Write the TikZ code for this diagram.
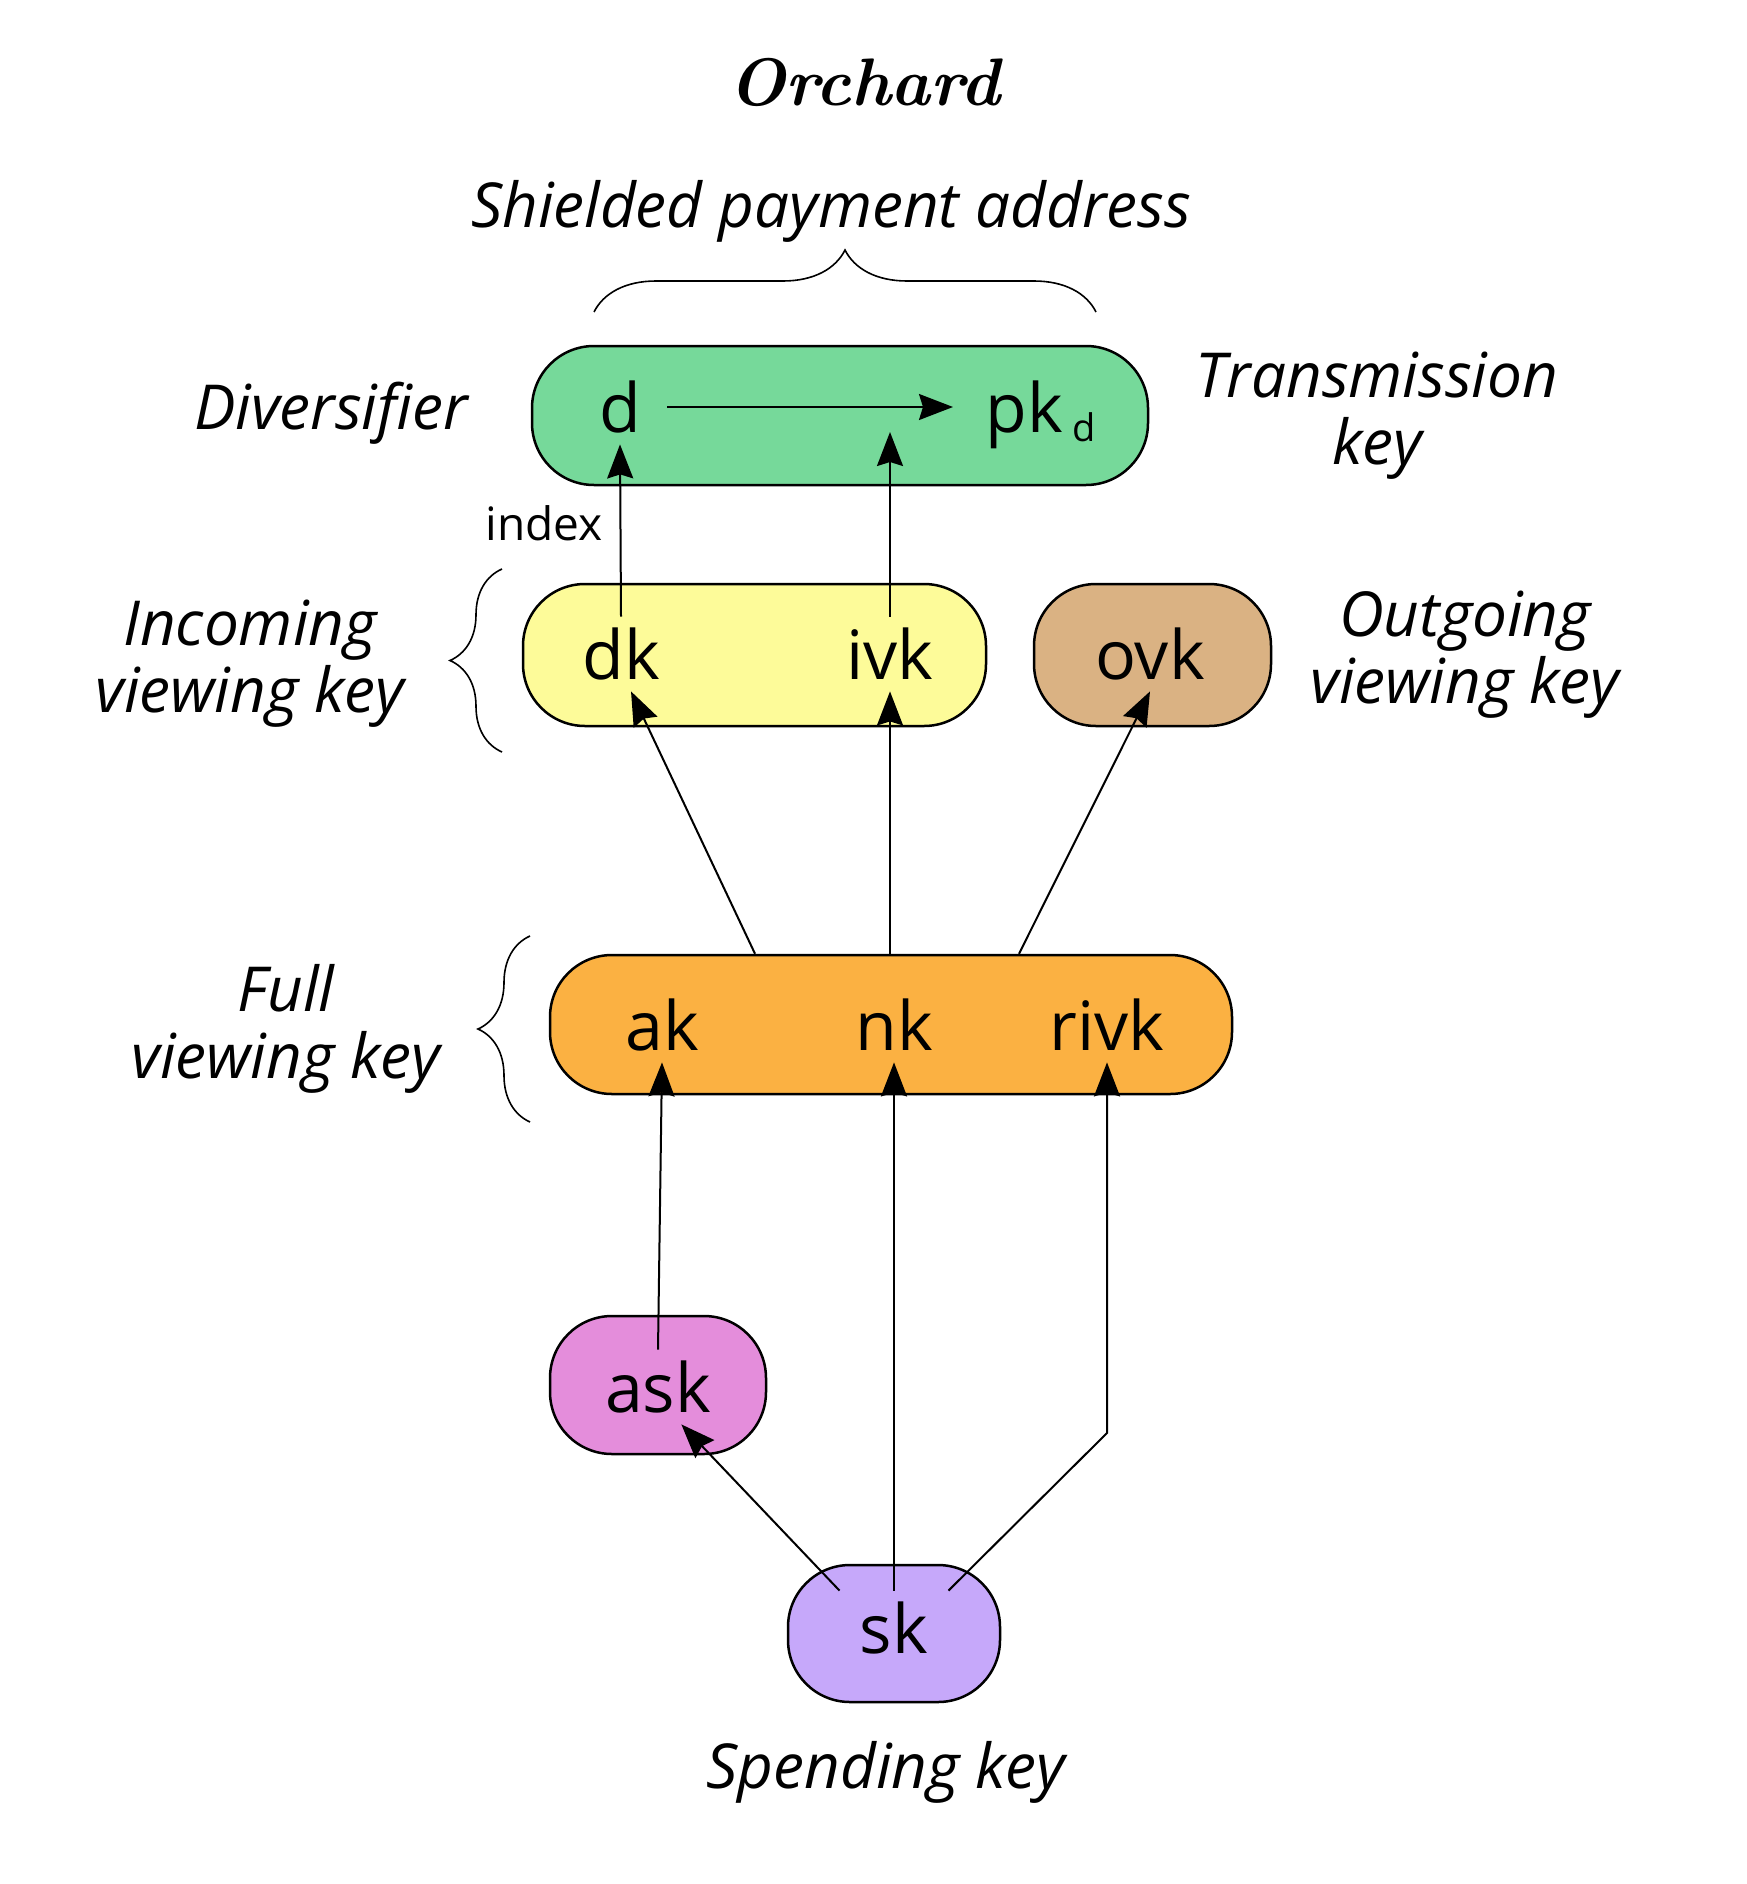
\documentclass[tikz,border=0pt]{standalone}
\usepackage{fontspec}
\setsansfont{Open Sans}
\usepackage{tikz}
\usetikzlibrary{arrows.meta,decorations.pathreplacing}

\definecolor{addrgreen}{HTML}{76D99A}
\definecolor{ivkyellow}{HTML}{FDFB99}
\definecolor{ovkbrown}{HTML}{DAB283}
\definecolor{fvkorange}{HTML}{FBB142}
\definecolor{askpink}{HTML}{E48DDB}
\definecolor{sklilac}{HTML}{C6A8FA}

\begin{document}
\begin{tikzpicture}[x=0.5pt,y=-0.5pt,
    keybox/.style={draw, line width=1.25pt, rounded corners=31pt, inner sep=0pt},
    keytext/.style={font=\sffamily\fontsize{34}{34}\selectfont, anchor=base,
      inner xsep=4pt, inner ysep=5pt, text height=26pt, text depth=1pt},
    ital/.style={font=\sffamily\itshape\fontsize{31}{33.5}\selectfont, align=center},
    arr/.style={line width=1pt, -{Stealth[length=17pt,width=13pt,inset=2pt]}},
    curly/.style={decorate, line width=0.8pt}]
  \useasboundingbox (0,0) rectangle (1746,1884);

  % boxes
  \node[keybox, fill=addrgreen, minimum width=308pt, minimum height=69.5pt] (addr) at (840,415.5) {};
  \node[keybox, fill=ivkyellow, minimum width=231.5pt, minimum height=71pt] (ivkbox) at (754.5,655) {};
  \node[keybox, fill=ovkbrown, minimum width=118.5pt, minimum height=71pt] (ovkbox) at (1152.5,655) {};
  \node[keybox, fill=fvkorange, minimum width=341pt, minimum height=69.5pt] (fvk) at (891,1024.5) {};
  \node[keybox, fill=askpink, minimum width=108pt, minimum height=69pt] (askbox) at (658,1385) {};
  \node[keybox, fill=sklilac, minimum width=106pt, minimum height=68.5pt] (skbox) at (894,1633.5) {};

  % keys
  \node[keytext, inner xsep=13pt] (d) at (620,432) {d};
  \node[keytext, anchor=base west, inner xsep=16pt] (pkd) at (953,432) {pk\kern5pt\raisebox{-4.5pt}{\fontsize{19}{19}\selectfont d}};
  \node[keytext] (dk) at (621,679) {dk};
  \node[keytext] (ivk) at (890,679) {ivk};
  \node[keytext] (ovk) at (1150,679) {ovk};
  \node[keytext] (ak) at (662,1050) {ak};
  \node[keytext] (nk) at (894,1050) {nk};
  \node[keytext] (rivk) at (1107,1050) {rivk};
  \node[keytext] (ask) at (658,1412) {ask};
  \node[keytext, inner xsep=10pt] (sk) at (894,1653) {sk};

  % labels
  \node[font=\bfseries\itshape\fontsize{33.6}{33.6}\selectfont, anchor=base] (title) at (864,105) {Orchard};
  \node[ital, anchor=base] (spa) at (831,227) {Shielded payment address};
  \node[ital, anchor=base] (divlabel) at (331,429) {Diversifier};
  \node[ital] (tklabel) at (1377,415.5) {Transmission\\key};
  \node[ital] (ivklabel) at (250,664) {Incoming\\viewing key};
  \node[ital] (ovklabel) at (1465,655) {Outgoing\\viewing key};
  \node[ital] (fvklabel) at (286,1029) {Full\\viewing key};
  \node[ital, anchor=base] (sklabel) at (886,1788) {Spending key};

  % braces
  \draw[curly, decoration={brace, amplitude=31pt}] (594,312) -- (1096,312);
  \draw[curly, decoration={brace, amplitude=26pt}] (502,752) -- (502,569);
  \draw[curly, decoration={brace, amplitude=26pt}] (530,1122) -- (530,936);

  % derivations
  \draw[arr] (d.east) -- (pkd.west);
  \draw[arr] (dk.north) -- node[pos=0.54, left, inner xsep=8.5pt, font=\sffamily\fontsize{23}{23}\selectfont] {index} (d.south);
  \draw[arr] (ivk.north) -- (ivk.north |- d.base);
  \draw[arr] ([xshift=-68pt]fvk.north) -- (dk.-75);
  \draw[arr] (fvk.north -| ivk) -- (ivk.south);
  \draw[arr] ([xshift=64pt]fvk.north) -- (ovk.south);
  \draw[arr] (ask.north) -- (ak.south);
  \draw[arr] (sk.north) -- (nk.south);
  \coordinate (bend) at (1107,1433);
  \draw[arr] (sk.north east) -- (bend) -- (rivk.south);
  \draw[arr] (sk.north west) -- (ask.-58);
\end{tikzpicture}
\end{document}
